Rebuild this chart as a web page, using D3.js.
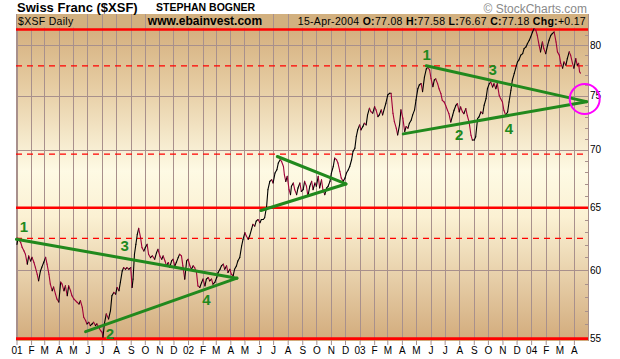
<!DOCTYPE html>
<html><head><meta charset="utf-8">
<script src="https://cdn.jsdelivr.net/npm/d3@7"></script>
<style>body{margin:0;background:#fff}svg{display:block;font-family:"Liberation Sans",Arial,sans-serif}</style>
</head><body><svg id="c" width="620" height="359"></svg>
<script>
// ---------- DATA ----------
const priceDates = ["2001-01-02","2001-01-04","2001-01-10","2001-01-13","2001-01-17","2001-01-20","2001-01-24","2001-01-27","2001-01-31","2001-02-03","2001-02-07","2001-02-10","2001-02-14","2001-02-17","2001-02-21","2001-02-24","2001-02-28","2001-03-04","2001-03-07","2001-03-11","2001-03-14","2001-03-18","2001-03-21","2001-03-25","2001-03-28","2001-04-01","2001-04-05","2001-04-08","2001-04-12","2001-04-15","2001-04-19","2001-04-22","2001-04-26","2001-04-29","2001-05-03","2001-05-07","2001-05-10","2001-05-14","2001-05-17","2001-05-21","2001-05-24","2001-05-28","2001-05-31","2001-06-04","2001-06-07","2001-06-11","2001-06-14","2001-06-18","2001-06-21","2001-06-25","2001-06-29","2001-07-02","2001-07-04","2001-07-07","2001-07-11","2001-07-16","2001-07-20","2001-07-23","2001-07-27","2001-07-31","2001-08-03","2001-08-07","2001-08-10","2001-08-14","2001-08-17","2001-08-21","2001-08-24","2001-08-28","2001-09-01","2001-09-04","2001-09-06","2001-09-09","2001-09-12","2001-09-15","2001-09-18","2001-09-22","2001-09-25","2001-09-29","2001-10-02","2001-10-06","2001-10-09","2001-10-13","2001-10-17","2001-10-22","2001-10-26","2001-10-29","2001-11-02","2001-11-06","2001-11-09","2001-11-13","2001-11-16","2001-11-20","2001-11-23","2001-11-27","2001-11-30","2001-12-04","2001-12-07","2001-12-11","2001-12-14","2001-12-18","2001-12-21","2001-12-25","2001-12-29","2002-01-01","2002-01-05","2002-01-08","2002-01-12","2002-01-15","2002-01-19","2002-01-22","2002-01-26","2002-01-30","2002-02-02","2002-02-06","2002-02-09","2002-02-13","2002-02-16","2002-02-20","2002-02-23","2002-02-27","2002-03-03","2002-03-06","2002-03-10","2002-03-13","2002-03-17","2002-03-20","2002-03-24","2002-03-27","2002-03-31","2002-04-03","2002-04-07","2002-04-10","2002-04-14","2002-04-17","2002-04-21","2002-04-25","2002-04-28","2002-05-02","2002-05-05","2002-05-09","2002-05-12","2002-05-16","2002-05-19","2002-05-23","2002-05-26","2002-05-30","2002-06-03","2002-06-06","2002-06-10","2002-06-13","2002-06-16","2002-06-17","2002-06-20","2002-06-24","2002-06-28","2002-07-01","2002-07-05","2002-07-09","2002-07-12","2002-07-16","2002-07-19","2002-07-23","2002-07-25","2002-07-28","2002-07-31","2002-08-04","2002-08-07","2002-08-09","2002-08-13","2002-08-16","2002-08-20","2002-08-23","2002-08-27","2002-08-30","2002-09-03","2002-09-06","2002-09-10","2002-09-13","2002-09-17","2002-09-21","2002-09-24","2002-09-28","2002-10-01","2002-10-05","2002-10-08","2002-10-12","2002-10-15","2002-10-19","2002-10-23","2002-10-26","2002-10-30","2002-11-02","2002-11-06","2002-11-09","2002-11-13","2002-11-16","2002-11-20","2002-11-23","2002-11-27","2002-12-01","2002-12-04","2002-12-08","2002-12-11","2002-12-15","2002-12-18","2002-12-22","2002-12-25","2002-12-28","2003-01-01","2003-01-04","2003-01-08","2003-01-11","2003-01-15","2003-01-18","2003-01-22","2003-01-25","2003-01-29","2003-02-02","2003-02-05","2003-02-09","2003-02-12","2003-02-16","2003-02-19","2003-02-23","2003-02-26","2003-03-02","2003-03-06","2003-03-09","2003-03-13","2003-03-16","2003-03-20","2003-03-23","2003-03-27","2003-03-30","2003-04-03","2003-04-07","2003-04-10","2003-04-14","2003-04-17","2003-04-21","2003-04-24","2003-04-28","2003-05-01","2003-05-05","2003-05-08","2003-05-12","2003-05-15","2003-05-19","2003-05-23","2003-05-26","2003-05-30","2003-06-02","2003-06-06","2003-06-09","2003-06-12","2003-06-16","2003-06-19","2003-06-23","2003-06-26","2003-06-30","2003-07-03","2003-07-07","2003-07-10","2003-07-14","2003-07-18","2003-07-21","2003-07-25","2003-07-28","2003-08-01","2003-08-04","2003-08-08","2003-08-11","2003-08-15","2003-08-18","2003-08-22","2003-08-26","2003-08-29","2003-09-02","2003-09-05","2003-09-09","2003-09-12","2003-09-16","2003-09-20","2003-09-23","2003-09-27","2003-09-30","2003-10-04","2003-10-07","2003-10-11","2003-10-14","2003-10-18","2003-10-21","2003-10-25","2003-10-28","2003-11-01","2003-11-04","2003-11-08","2003-11-12","2003-11-15","2003-11-19","2003-11-22","2003-11-26","2003-11-29","2003-12-03","2003-12-06","2003-12-10","2003-12-14","2003-12-17","2003-12-21","2003-12-24","2003-12-28","2003-12-31","2004-01-04","2004-01-07","2004-01-11","2004-01-14","2004-01-18","2004-01-21","2004-01-25","2004-01-28","2004-02-01","2004-02-05","2004-02-08","2004-02-12","2004-02-15","2004-02-19","2004-02-23","2004-02-26","2004-03-01","2004-03-04","2004-03-08","2004-03-11","2004-03-15","2004-03-18","2004-03-22","2004-03-25","2004-03-29","2004-04-01","2004-04-05","2004-04-08","2004-04-11","2004-04-13","2004-04-15"];
const priceValues = [62.03,62.51,62.17,61.80,61.51,61.25,60.48,61.12,60.73,61.01,60.63,60.25,59.71,59.21,59.96,60.25,60.63,61.01,60.48,59.71,58.96,58.46,58.74,58.21,57.85,57.63,59.11,58.96,58.46,58.83,58.09,58.83,58.46,58.09,57.85,57.72,57.61,57.48,57.72,57.24,56.52,56.28,56.04,56.16,55.92,56.04,56.16,55.92,56.04,55.80,55.56,55.45,55.10,56.04,56.76,56.40,57.00,58.09,58.34,58.21,58.71,58.46,59.09,59.96,60.22,60.09,60.22,60.09,60.22,58.71,59.34,61.25,62.03,62.83,63.31,62.56,61.77,61.51,61.77,62.03,61.25,60.99,61.12,60.86,61.38,61.64,61.12,60.86,61.12,60.73,60.35,60.61,60.22,60.73,60.86,60.35,60.61,60.99,61.25,61.12,60.35,59.34,60.73,60.86,60.35,60.09,60.35,60.22,59.84,58.83,58.71,59.09,59.34,58.83,59.34,59.46,59.21,59.34,58.96,59.09,59.46,59.84,60.09,60.35,60.48,60.09,60.35,59.84,60.09,59.71,59.59,60.09,60.35,60.73,60.99,61.90,62.43,62.96,62.69,62.43,62.69,63.23,63.63,63.49,63.90,64.03,63.76,64.03,64.03,64.17,64.85,65.01,66.51,67.22,67.36,67.08,67.94,68.22,68.81,69.10,68.95,68.51,67.79,67.22,67.65,66.51,66.09,66.80,67.08,66.51,66.09,66.66,67.08,66.37,66.51,67.22,66.80,65.95,66.80,67.22,66.51,67.08,66.80,67.65,66.66,67.36,66.51,66.09,66.66,66.80,67.22,67.94,68.51,69.25,69.10,68.81,68.08,67.51,67.22,67.51,67.94,68.22,68.51,69.10,69.83,70.13,71.18,71.79,72.24,71.79,72.09,72.40,72.24,73.17,73.80,73.48,73.33,73.95,73.64,73.01,73.17,73.64,73.17,73.80,74.27,75.06,75.22,75.22,73.33,72.55,71.94,71.33,72.24,73.64,72.87,71.64,72.09,71.94,72.40,72.70,73.17,73.64,74.58,75.66,76.02,76.16,75.38,76.79,77.59,77.75,77.49,76.65,75.86,76.51,76.61,76.15,75.66,75.19,74.55,74.39,74.08,73.61,73.29,72.51,73.14,73.61,74.08,74.23,73.45,73.92,73.45,73.29,73.76,73.14,72.51,71.30,70.86,70.86,71.15,72.82,72.98,73.45,73.29,74.08,74.71,75.66,76.15,76.31,75.83,76.15,75.66,76.15,75.03,74.71,74.39,73.61,73.14,73.45,74.39,75.51,76.48,77.14,77.64,78.29,78.48,78.97,79.12,79.63,79.80,80.13,80.48,80.82,81.34,81.68,81.52,81.00,79.97,79.30,80.31,79.63,79.12,79.97,80.48,81.00,81.17,81.34,80.31,79.30,78.97,78.15,77.67,78.29,77.97,78.62,79.30,78.97,78.15,77.67,78.62,77.97,78.15,77.31,77.18];

const yTicks = [55, 60, 65, 70, 75, 80];
const solidLevels = [81.6, 65, 55];
const dashedLevels = [77.9, 69.6, 62.5];
const monthLabels = ["01","F","M","A","M","J","J","A","S","O","N","D",
                     "02","F","M","A","M","J","J","A","S","O","N","D",
                     "03","F","M","A","M","J","J","A","S","O","N","D",
                     "04","F","M","A"];
// trend lines: start date, start value, end date, end value
const trendStartDates = ["2001-01-01","2001-05-28","2002-07-10","2002-06-05","2003-05-23","2003-04-04"];
const trendStartValues = [62.43, 55.49, 69.39, 64.77, 77.91, 71.42];
const trendEndDates = ["2002-04-15","2002-04-15","2002-12-03","2002-12-03","2004-04-28","2004-04-28"];
const trendEndValues = [59.41, 59.41, 67.0, 67.0, 74.42, 74.42];
const waveLabels = ["1","3","2","4","1","3","2","4"];
const waveDates = ["2001-01-17","2001-08-19","2001-07-19","2002-02-09","2003-05-24","2003-10-11","2003-08-01","2003-11-15"];
const waveValues = [63.47, 61.90, 55.33, 57.80, 78.99, 77.56, 71.33, 71.94];
const circleDate = "2004-04-24", circleValue = 74.67;

// ---------- CHART ----------
const parse = d3.timeParse("%Y-%m-%d");
const svg = d3.select("#c");
const L = 16, R = 588, T = 14, B = 341;
const x = d3.scaleTime().domain([new Date(2001,0,1), new Date(2004,4,1)]).range([16.5, 588]);
const y = d3.scaleLog().domain([55, 80]).range([338.6, 45]);

const defs = svg.append("defs");
const g = defs.append("linearGradient").attr("id","bg").attr("x1",0).attr("x2",0).attr("y1",0).attr("y2",1);
[[0,"#d0a876"],[0.22,"#e6cca2"],[0.48,"#fefae4"],[0.62,"#fbf1d3"],[1,"#d2ab7c"]].forEach(s=>g.append("stop").attr("offset",s[0]).attr("stop-color",s[1]));

svg.append("rect").attr("x",L).attr("y",T).attr("width",R-L).attr("height",B-T).attr("fill","url(#bg)");
svg.append("rect").attr("x",L).attr("y",T).attr("width",R-L).attr("height",13.5).attr("fill","#d2b07f");

const grid = "#a8908c";
const months = d3.timeMonths(new Date(2001,0,1), new Date(2004,4,1));
svg.append("g").selectAll("line").data(months).join("line")
  .attr("x1",d=>Math.round(x(d))+0.5).attr("x2",d=>Math.round(x(d))+0.5).attr("y1",T).attr("y2",B)
  .attr("stroke",grid).attr("stroke-width",1);
svg.append("g").selectAll("line").data(yTicks).join("line")
  .attr("x1",L).attr("x2",R).attr("y1",d=>Math.round(y(d))+0.5).attr("y2",d=>Math.round(y(d))+0.5)
  .attr("stroke",grid).attr("stroke-width",1);
// minor ticks on the right edge
svg.append("g").selectAll("line").data(d3.range(56,82).filter(v=>v%5)).join("line")
  .attr("x1",R-3).attr("x2",R).attr("y1",d=>Math.round(y(d))+0.5).attr("y2",d=>Math.round(y(d))+0.5)
  .attr("stroke",grid);
// frame
svg.append("line").attr("x1",L+0.5).attr("x2",L+0.5).attr("y1",T).attr("y2",B).attr("stroke",grid);
svg.append("line").attr("x1",R+0.5).attr("x2",R+0.5).attr("y1",T).attr("y2",B).attr("stroke",grid);

// header texts
function boxed(t){
  const bb = t.node().getBBox();
  svg.insert("rect", function(){return t.node();}).attr("x",bb.x-1).attr("y",T).attr("width",bb.width+2).attr("height",13.5).attr("fill","#d2b07f");
}
const t1 = svg.append("text").attr("x",18).attr("y",24.5).attr("font-size",10.5).attr("letter-spacing",0.3).text("$XSF Daily");
boxed(t1);
const t2 = svg.append("text").attr("x",205).attr("y",24.5).attr("text-anchor","middle").attr("font-size",12).attr("font-weight","bold").text("www.ebainvest.com");
boxed(t2);
const t3 = svg.append("text").attr("x",586).attr("y",24.5).attr("text-anchor","end").attr("font-size",10.5).attr("letter-spacing",0.3);
[["15-Apr-2004 ",false],["O:",true],["77.08 ",false],["H:",true],["77.58 ",false],["L:",true],["76.67 ",false],["C:",true],["77.18 ",false],["Chg:",true],["+0.17",false]]
  .forEach(p=>t3.append("tspan").attr("font-weight",p[1]?"bold":"normal").text(p[0]));
boxed(t3);

// level lines
svg.append("g").selectAll("line").data(dashedLevels).join("line")
  .attr("x1",L).attr("x2",R).attr("y1",d=>y(d)).attr("y2",d=>y(d))
  .attr("stroke","#ff0000").attr("stroke-width",1.3).attr("stroke-dasharray","6,5");
svg.append("g").selectAll("line").data(solidLevels).join("line")
  .attr("x1",L).attr("x2",R).attr("y1",d=>y(d)).attr("y2",d=>y(d))
  .attr("stroke","#ff0000").attr("stroke-width",2.6);

// price line colored by direction
const pts = priceDates.map((d,i)=>({d:parse(d), v:priceValues[i]}));
const segs = pts.slice(1).map((p,i)=>({a:pts[i], b:p}));
svg.append("g").selectAll("line").data(segs).join("line")
  .attr("x1",s=>x(s.a.d)).attr("y1",s=>y(s.a.v)).attr("x2",s=>x(s.b.d)).attr("y2",s=>y(s.b.v))
  .attr("stroke",s=>s.b.v>=s.a.v?"#000":"#a0003a").attr("stroke-width",1.1).attr("stroke-linecap","round");

// trend lines
const green = "#21891d";
svg.append("g").selectAll("line").data(trendStartDates.map((d,i)=>i)).join("line")
  .attr("x1",i=>x(parse(trendStartDates[i]))).attr("y1",i=>y(trendStartValues[i]))
  .attr("x2",i=>x(parse(trendEndDates[i]))).attr("y2",i=>y(trendEndValues[i]))
  .attr("stroke",green).attr("stroke-width",3).attr("stroke-linecap","round");
svg.append("g").selectAll("text").data(waveLabels).join("text")
  .attr("x",(d,i)=>x(parse(waveDates[i]))).attr("y",(d,i)=>y(waveValues[i])+5.5)
  .attr("text-anchor","middle").attr("font-size",15).attr("font-weight","bold").attr("fill",green).text(d=>d);

// x axis
const xa = svg.append("g").attr("transform",`translate(0,${B})`)
  .call(d3.axisBottom(x).tickValues(months).tickFormat((d,i)=>monthLabels[i]).tickSize(4).tickPadding(2));
xa.select(".domain").remove();
xa.selectAll("line").attr("stroke",grid);
xa.selectAll("text").attr("font-size",10).attr("fill","#000").attr("font-family","Liberation Sans, Arial, sans-serif");

// y axis (right)
const ya = svg.append("g").attr("transform",`translate(${R},0)`)
  .call(d3.axisRight(y).tickValues(yTicks).tickFormat(d3.format("d")).tickSize(0).tickPadding(2));
ya.select(".domain").remove();
ya.selectAll("text").attr("font-size",10).attr("fill","#000").attr("font-family","Liberation Sans, Arial, sans-serif");

// magenta circle
svg.append("circle").attr("cx",x(parse(circleDate))).attr("cy",y(circleValue)).attr("r",15)
  .attr("fill","none").attr("stroke","#ff00ff").attr("stroke-width",2);

// titles
svg.append("text").attr("x",17).attr("y",12).attr("font-size",13).attr("font-weight","bold").text("Swiss Franc ($XSF)");
svg.append("text").attr("x",156).attr("y",11).attr("font-size",10.5).attr("font-weight","bold").text("STEPHAN BOGNER");
svg.append("text").attr("x",587).attr("y",12.5).attr("text-anchor","end").attr("font-size",12).attr("fill","#8a8a8a").text("© StockCharts.com");
</script></body></html>
